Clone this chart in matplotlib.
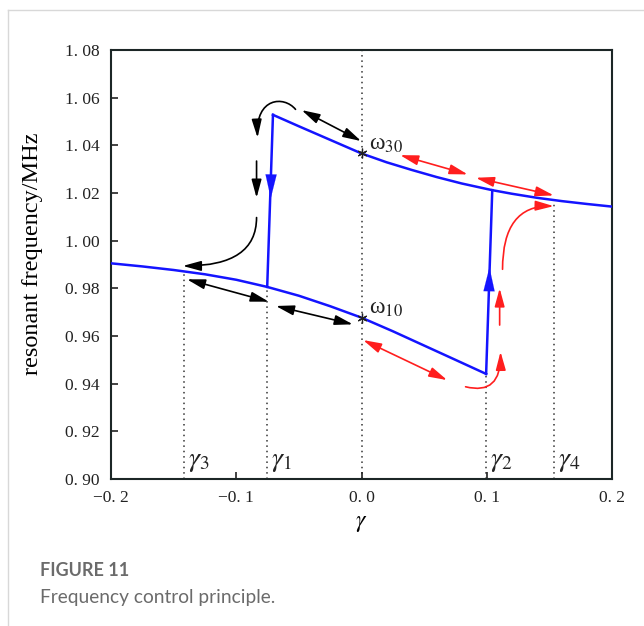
import numpy as np
import matplotlib
matplotlib.use('Agg')
import matplotlib.pyplot as plt
from matplotlib.patches import FancyArrowPatch
from matplotlib.path import Path
from matplotlib.lines import Line2D

plt.rcParams['font.family'] = ['Liberation Serif', 'DejaVu Serif']
plt.rcParams['mathtext.fontset'] = 'stix'

# upper branch (omega_3), from the jump-down point to the right edge
upper_x = [-0.0707, -0.05, -0.025, 0.0, 0.02, 0.04, 0.06, 0.08, 0.1, 0.1044,
           0.12, 0.14, 0.16, 0.18, 0.2]
upper_f = [1.0528, 1.0480, 1.0423, 1.0366, 1.0329, 1.0297, 1.0267, 1.0240, 1.0217, 1.0212,
           1.0197, 1.0180, 1.0166, 1.0154, 1.0143]

# lower branch (omega_1), from the left edge to the jump-up point
lower_x = [-0.2, -0.175, -0.15, -0.125, -0.1, -0.0753, -0.05, -0.025, 0.0,
           0.025, 0.05, 0.075, 0.0995]
lower_f = [0.9905, 0.9892, 0.9877, 0.9859, 0.9836, 0.9806, 0.9769, 0.9725, 0.9677,
           0.9620, 0.9560, 0.9500, 0.9441]

# gamma markers: position, label, height the dotted line reaches
gamma_x = [-0.1415, -0.0753, 0.0995, 0.1535]
gamma_lbl = [r'$\gamma_3$', r'$\gamma_1$', r'$\gamma_2$', r'$\gamma_4$']
gamma_top = [0.9872, 0.9806, 0.9441, 1.0170]

omega_f = [1.0366, 0.9677]
omega_lbl = ['\u03c9$_{30}$', '\u03c9$_{10}$']

# straight double-headed arrows along the branches
black_pairs = [((-0.1394, 0.9838), (-0.0740, 0.9744)),
               ((-0.0684, 0.9726), (-0.0069, 0.9649)),
               ((-0.0478, 1.0548), (-0.0003, 1.0418))]
red_pairs = [((0.0308, 1.0359), (0.0848, 1.0278)),
             ((0.0913, 1.0264), (0.1535, 1.0190)),
             ((0.0013, 0.9583), (0.0684, 0.9415))]

# single-headed arrows (start, end)
black_single = [((-0.0838, 1.0334), (-0.0838, 1.0180))]
red_single = [((0.1103, 0.9646), (0.1103, 0.9800))]

# curved arrows: bezier control points
black_curves = [[(-0.0527, 1.0551), (-0.0620, 1.0610), (-0.0845, 1.0600), (-0.0830, 1.0432)],
                [(-0.0838, 1.0097), (-0.0838, 0.9894), (-0.1427, 0.9894)]]
red_curves = [[(0.1126, 0.9880), (0.1126, 1.0150), (0.1535, 1.0145)],
              [(0.0831, 0.9387), (0.1115, 0.9350), (0.1110, 0.9534)]]

xticks = [-0.2, -0.1, 0.0, 0.1, 0.2]
yticks = [0.90, 0.92, 0.94, 0.96, 0.98, 1.00, 1.02, 1.04, 1.06, 1.08]

fig = plt.figure(figsize=(6.44, 6.26), dpi=100)
ax = fig.add_axes([0.1724, 0.2348, 0.7779, 0.6853])

blue = '#1414ff'
red = '#ff1e1e'

# branches and jumps
ax.plot(upper_x, upper_f, color=blue, lw=1.8, zorder=3)
ax.plot(lower_x, lower_f, color=blue, lw=1.8, zorder=3)
ax.plot([lower_x[5], upper_x[0]], [lower_f[5], upper_f[0]], color=blue, lw=1.8, zorder=3)
ax.plot([lower_x[-1], upper_x[9]], [lower_f[-1], upper_f[9]], color=blue, lw=1.8, zorder=3)

# arrowheads on the jumps
ax.annotate('', xy=(-0.0725, 1.0166), xytext=(-0.0722, 1.0275),
            arrowprops=dict(arrowstyle='-|>,head_length=1.7,head_width=0.4',
                            color=blue, lw=0.1, mutation_scale=10), zorder=4)
ax.annotate('', xy=(0.1022, 0.9900), xytext=(0.1018, 0.9775),
            arrowprops=dict(arrowstyle='-|>,head_length=1.7,head_width=0.4',
                            color=blue, lw=0.1, mutation_scale=10), zorder=4)

# dotted guide lines
ax.axvline(0.0, color='#333333', ls=(0, (1, 2.5)), lw=1.1, zorder=1)
for gx, gt, gl in zip(gamma_x, gamma_top, gamma_lbl):
    ax.plot([gx, gx], [0.90, gt], color='#333333', ls=(0, (1, 2.5)), lw=1.1, zorder=1)
    ax.text(gx + 0.003, 0.9075, gl, fontsize=20, va='center', ha='left', color='#222222')

# omega points
for of, ol in zip(omega_f, omega_lbl):
    ax.plot(0.0, of, marker=(6, 2, 0), color='#222222', ms=7, mew=0.9, zorder=5)
    ax.text(0.006, of + 0.0038, ol, fontsize=17, va='center', ha='left', color='#222222')


def straight(p0, p1, color, style):
    ax.add_patch(FancyArrowPatch(p0, p1, arrowstyle=style, color=color, lw=1.2,
                                 mutation_scale=10, shrinkA=0, shrinkB=0, zorder=4))


def curved(pts, color):
    codes = [Path.MOVETO] + ([Path.CURVE4] * 3 if len(pts) == 4 else [Path.CURVE3] * 2)
    ax.add_patch(FancyArrowPatch(path=Path(pts, codes),
                                 arrowstyle='-|>,head_length=1.1,head_width=0.3',
                                 color=color, lw=1.2, mutation_scale=10, zorder=4))


dbl = '<|-|>,head_length=1.1,head_width=0.3'
sgl = '-|>,head_length=1.1,head_width=0.3'
for p0, p1 in black_pairs:
    straight(p0, p1, 'black', dbl)
for p0, p1 in red_pairs:
    straight(p0, p1, red, dbl)
for p0, p1 in black_single:
    straight(p0, p1, 'black', sgl)
for p0, p1 in red_single:
    straight(p0, p1, red, sgl)
for c in black_curves:
    curved(c, 'black')
for c in red_curves:
    curved(c, red)

ax.set_xlim(-0.2, 0.2)
ax.set_ylim(0.90, 1.08)
ax.set_xticks(xticks)
ax.set_yticks(yticks)
ax.set_xticklabels([f'{v:.1f}'.replace('-', '\u2212').replace('.', '. ') for v in xticks])
ax.set_yticklabels([f'{v:.2f}'.replace('.', '. ') for v in yticks])
ax.tick_params(direction='in', length=5, width=1.2, labelsize=12.5, colors='#222222',
               top=False, right=False, pad=8)
for s in ax.spines.values():
    s.set_linewidth(1.5)
    s.set_color('#1c2626')

ax.set_xlabel(r'$\gamma$', fontsize=17, labelpad=5)
ax.set_ylabel('resonant frequency/MHz', fontsize=17.5)
ax.yaxis.set_label_coords(-0.135, 0.525)

# page frame and caption
fig.add_artist(Line2D([8 / 644, 8 / 644], [0, 1 - 10 / 626], color='#d8d8d8', lw=1))
fig.add_artist(Line2D([8 / 644, 1], [1 - 10 / 626, 1 - 10 / 626], color='#d8d8d8', lw=1))
fig.text(40 / 644, 1 - 571 / 626, 'FIGURE 11', fontsize=13, fontweight='bold',
         color='#6b6b6b', family='Lato', va='center')
fig.text(40 / 644, 1 - 598 / 626, 'Frequency control principle.', fontsize=13.8,
         color='#6b6b6b', family='Lato', va='center')

fig.savefig('out.png', dpi=100)
